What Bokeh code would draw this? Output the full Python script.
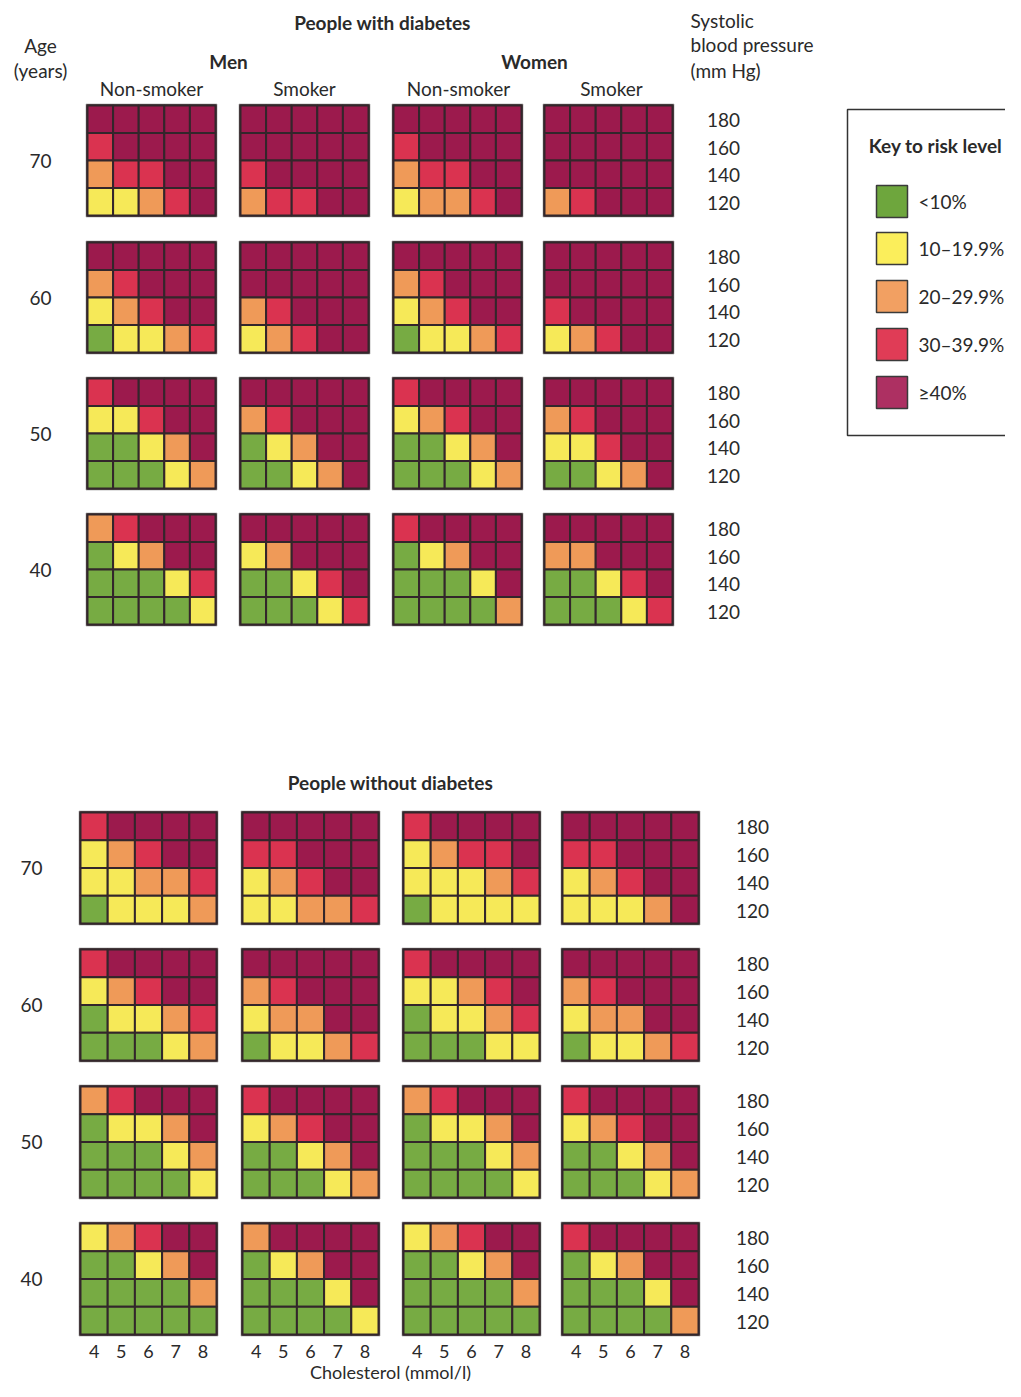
from bokeh.plotting import figure
from bokeh.models import Range1d, Label
from bokeh.embed import file_html
from bokeh.resources import INLINE

# ---------------- data ----------------
risk_levels = ["<10%", "10\u201319.9%", "20\u201329.9%", "30\u201339.9%", "\u226540%"]
cell_colors = ["#77ab43", "#f6e958", "#ef9a58", "#da3350", "#9c1a4d"]
key_colors = ["#6ea63d", "#fbee5b", "#f2a062", "#e03c56", "#ad3062"]
cholesterol = [4, 5, 6, 7, 8]
systolic_bp = [180, 160, 140, 120]
ages = [70, 60, 50, 40]
sex_labels = ["Men", "Women"]
smoking_labels = ["Non-smoker", "Smoker", "Non-smoker", "Smoker"]

# risk level index per cell; each age = [men non-smoker, men smoker, women non-smoker, women smoker]
# rows are SBP 180,160,140,120 ; columns cholesterol 4..8
diab_70 = [
    [[4, 4, 4, 4, 4], [3, 4, 4, 4, 4], [2, 3, 3, 4, 4], [1, 1, 2, 3, 4]],
    [[4, 4, 4, 4, 4], [4, 4, 4, 4, 4], [3, 4, 4, 4, 4], [2, 3, 3, 4, 4]],
    [[4, 4, 4, 4, 4], [3, 4, 4, 4, 4], [2, 3, 3, 4, 4], [1, 2, 2, 3, 4]],
    [[4, 4, 4, 4, 4], [4, 4, 4, 4, 4], [4, 4, 4, 4, 4], [2, 3, 4, 4, 4]],
]
diab_60 = [
    [[4, 4, 4, 4, 4], [2, 3, 4, 4, 4], [1, 2, 3, 4, 4], [0, 1, 1, 2, 3]],
    [[4, 4, 4, 4, 4], [4, 4, 4, 4, 4], [2, 3, 4, 4, 4], [1, 2, 3, 4, 4]],
    [[4, 4, 4, 4, 4], [2, 3, 4, 4, 4], [1, 2, 3, 4, 4], [0, 1, 1, 2, 3]],
    [[4, 4, 4, 4, 4], [4, 4, 4, 4, 4], [3, 4, 4, 4, 4], [1, 2, 3, 4, 4]],
]
diab_50 = [
    [[3, 4, 4, 4, 4], [1, 1, 3, 4, 4], [0, 0, 1, 2, 4], [0, 0, 0, 1, 2]],
    [[4, 4, 4, 4, 4], [2, 3, 4, 4, 4], [0, 1, 2, 4, 4], [0, 0, 1, 2, 4]],
    [[3, 4, 4, 4, 4], [1, 2, 3, 4, 4], [0, 0, 1, 2, 4], [0, 0, 0, 1, 2]],
    [[4, 4, 4, 4, 4], [2, 3, 4, 4, 4], [1, 1, 3, 4, 4], [0, 0, 1, 2, 4]],
]
diab_40 = [
    [[2, 3, 4, 4, 4], [0, 1, 2, 4, 4], [0, 0, 0, 1, 3], [0, 0, 0, 0, 1]],
    [[4, 4, 4, 4, 4], [1, 2, 4, 4, 4], [0, 0, 1, 3, 4], [0, 0, 0, 1, 3]],
    [[3, 4, 4, 4, 4], [0, 1, 2, 4, 4], [0, 0, 0, 1, 4], [0, 0, 0, 0, 2]],
    [[4, 4, 4, 4, 4], [2, 2, 4, 4, 4], [0, 0, 1, 3, 4], [0, 0, 0, 1, 3]],
]
nodiab_70 = [
    [[3, 4, 4, 4, 4], [1, 2, 3, 4, 4], [1, 1, 2, 2, 3], [0, 1, 1, 1, 2]],
    [[4, 4, 4, 4, 4], [3, 3, 4, 4, 4], [1, 2, 3, 4, 4], [1, 1, 2, 2, 3]],
    [[3, 4, 4, 4, 4], [1, 2, 3, 3, 4], [1, 1, 1, 2, 3], [0, 1, 1, 1, 1]],
    [[4, 4, 4, 4, 4], [3, 3, 4, 4, 4], [1, 2, 3, 4, 4], [1, 1, 1, 2, 4]],
]
nodiab_60 = [
    [[3, 4, 4, 4, 4], [1, 2, 3, 4, 4], [0, 1, 1, 2, 3], [0, 0, 0, 1, 2]],
    [[4, 4, 4, 4, 4], [2, 3, 4, 4, 4], [1, 2, 2, 4, 4], [0, 1, 1, 2, 3]],
    [[3, 4, 4, 4, 4], [1, 1, 2, 3, 4], [0, 1, 1, 2, 3], [0, 0, 0, 1, 1]],
    [[4, 4, 4, 4, 4], [2, 3, 4, 4, 4], [1, 2, 2, 4, 4], [0, 1, 1, 2, 3]],
]
nodiab_50 = [
    [[2, 3, 4, 4, 4], [0, 1, 1, 2, 4], [0, 0, 0, 1, 2], [0, 0, 0, 0, 1]],
    [[3, 4, 4, 4, 4], [1, 2, 3, 4, 4], [0, 0, 1, 2, 4], [0, 0, 0, 1, 2]],
    [[2, 3, 4, 4, 4], [0, 1, 1, 2, 4], [0, 0, 0, 1, 2], [0, 0, 0, 0, 1]],
    [[3, 4, 4, 4, 4], [1, 2, 3, 4, 4], [0, 0, 1, 2, 4], [0, 0, 0, 1, 2]],
]
nodiab_40 = [
    [[1, 2, 3, 4, 4], [0, 0, 1, 2, 4], [0, 0, 0, 0, 2], [0, 0, 0, 0, 0]],
    [[2, 4, 4, 4, 4], [0, 1, 2, 4, 4], [0, 0, 0, 1, 4], [0, 0, 0, 0, 1]],
    [[1, 2, 3, 4, 4], [0, 0, 1, 2, 4], [0, 0, 0, 0, 2], [0, 0, 0, 0, 0]],
    [[3, 4, 4, 4, 4], [0, 1, 2, 4, 4], [0, 0, 0, 1, 4], [0, 0, 0, 0, 2]],
]
diabetes_panels = [diab_70, diab_60, diab_50, diab_40]
no_diabetes_panels = [nodiab_70, nodiab_60, nodiab_50, nodiab_40]

# ---------------- layout (picture pixel coordinates) ----------------
W, H = 1005, 1381
FONT = "Lato"
TXT = "#2a2a2a"

p = figure(width=W, height=H, output_backend="svg", toolbar_location=None,
           x_range=Range1d(0, W), y_range=Range1d(H, 0),
           min_border=0, outline_line_color=None)
p.axis.visible = False
p.grid.visible = False
p.background_fill_color = "white"

sections = [
    dict(panels=diabetes_panels, x0=[87, 240, 393, 544], gw=128, y0=[105, 242, 378, 514], gh=110,
         age_x=40, bp_x=723),
    dict(panels=no_diabetes_panels, x0=[80, 242, 403, 562], gw=136, y0=[812, 949, 1086, 1223], gh=111,
         age_x=31, bp_x=752),
]


def lab(x, y, t, size="19px", bold=False, align="center"):
    p.add_layout(Label(x=x, y=y, text=t, text_align=align, text_baseline="middle",
                       text_font=FONT, text_font_size=size, text_color=TXT,
                       text_font_style="bold" if bold else "normal"))


cx, cy, cwid, chei, ccol = [], [], [], [], []
ox, oy, ow, oh = [], [], [], []
for sec in sections:
    cw = sec["gw"] / len(cholesterol)
    ch = sec["gh"] / len(systolic_bp)
    for ai, age_grids in enumerate(sec["panels"]):
        top = sec["y0"][ai]
        for gi, grid in enumerate(age_grids):
            left = sec["x0"][gi]
            ox.append(left + sec["gw"] / 2); oy.append(top + sec["gh"] / 2)
            ow.append(sec["gw"]); oh.append(sec["gh"])
            for ri, row in enumerate(grid):
                for ci, lev in enumerate(row):
                    cx.append(left + (ci + 0.5) * cw)
                    cy.append(top + (ri + 0.5) * ch)
                    cwid.append(cw); chei.append(ch)
                    ccol.append(cell_colors[lev])
        lab(sec["age_x"], top + sec["gh"] / 2, str(ages[ai]))
        for ri, bp in enumerate(systolic_bp):
            lab(sec["bp_x"], top + (ri + 0.5) * ch + 1, str(bp))

p.rect(x=ox, y=oy, width=[w + 3 for w in ow], height=[h + 3 for h in oh],
       fill_color="#3b2b30", line_color="#9a9a9a", line_width=1, line_alpha=0.6)
p.rect(x=cx, y=cy, width=cwid, height=chei, fill_color=ccol,
       line_color="#33262b", line_width=2)

# cholesterol tick labels under the bottom panels
sec = sections[1]
cw = sec["gw"] / len(cholesterol)
for left in sec["x0"]:
    for ci, c in enumerate(cholesterol):
        lab(left + (ci + 0.5) * cw, 1351, str(c), size="18px")

lab(390, 1371, "Cholesterol (mmol/l)", size="18px")
lab(382, 22, "People with diabetes", bold=True)
lab(390, 782, "People without diabetes", bold=True)
lab(40, 45, "Age")
lab(40, 70, "(years)")
lab(228, 61, sex_labels[0], bold=True)
lab(534, 61, sex_labels[1], bold=True)
for x, t in zip([151, 304, 458, 611], smoking_labels):
    lab(x, 88, t)
lab(690, 20, "Systolic", align="left")
lab(690, 44, "blood pressure", align="left")
lab(690, 70, "(mm Hg)", align="left")

# key
p.rect(x=[935 + 20], y=[272], width=[216], height=[326], fill_color="white",
       line_color="#333333", line_width=1.5)
lab(935, 145, "Key to risk level", bold=True)
key_y = [201, 248, 296, 344, 392]
p.rect(x=[891.5] * 5, y=key_y, width=[31] * 5, height=[32] * 5, fill_color=key_colors,
       line_color="#3a3a3a", line_width=1.5)
for y, t in zip(key_y, risk_levels):
    lab(918, y, t, align="left")

open("out.html", "w").write(file_html(p, INLINE))
